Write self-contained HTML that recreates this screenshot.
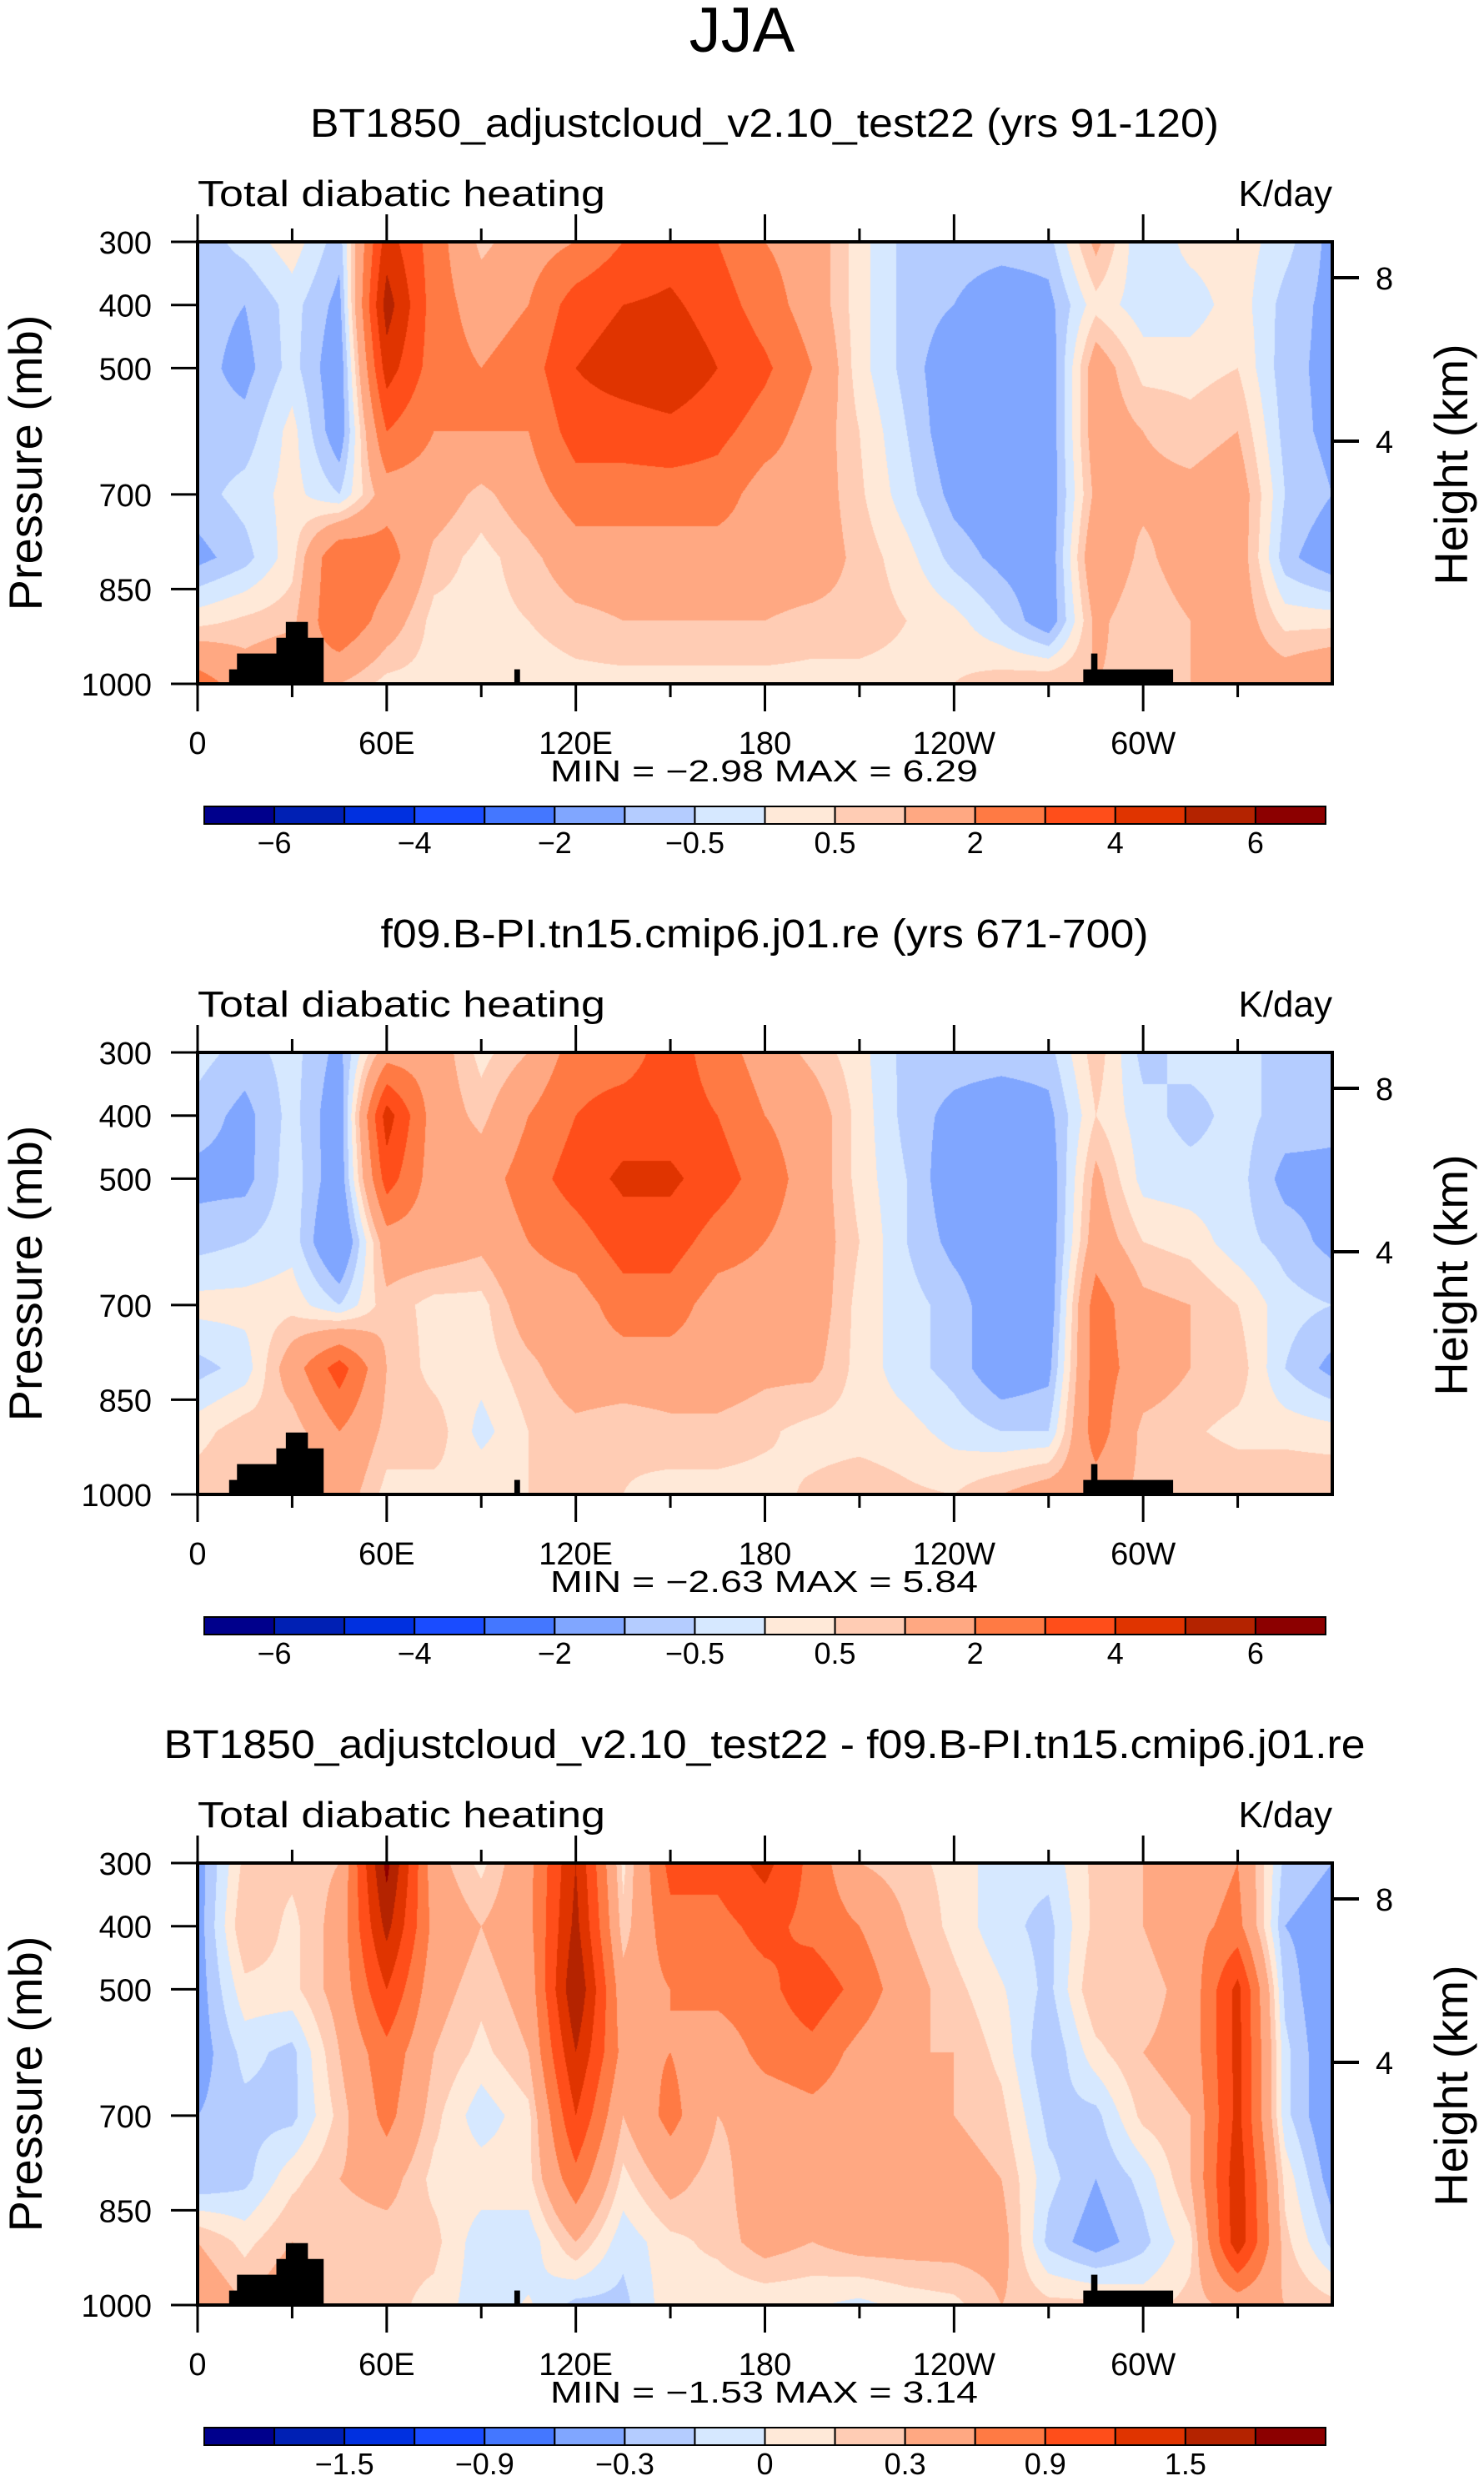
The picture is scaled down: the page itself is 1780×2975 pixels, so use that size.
<!DOCTYPE html>
<html><head><meta charset="utf-8"><style>
html,body{margin:0;padding:0;background:#fff;}
#wrap{position:relative;width:1780px;height:2975px;overflow:hidden;}
canvas{position:absolute;}
svg{position:absolute;left:0;top:0;}
text{font-family:"Liberation Sans",sans-serif;fill:#000;}
</style></head><body>
<div id="wrap">
<canvas id="c0"></canvas>
<canvas id="c1"></canvas>
<canvas id="c2"></canvas>
<svg id="svg" width="1780" height="2975">
<text x="890" y="62" font-size="76" text-anchor="middle">JJA</text>
</svg>
</div>
<script>
// ---- data ----
const lons = [0,15,30,45,60,75,90,105,120,135,150,165,180,195,210,225,240,255,270,285,300,315,330,345,360];
const pLevels = [300,400,500,600,700,800,900,1000];
// each row = one longitude column, values at pLevels
const vals1 = [
[-0.8,-0.8,-0.8,-0.8,-0.7,-1.2,0.3,2.5],
[-0.3,-1,-1.2,-0.8,-0.3,-0.7,0.6,1.5],
[0.3,-0.3,-0.3,0.2,0.2,0.3,0.8,2],
[-0.8,-1.2,-1.5,-1.5,-0.5,3,3,1],
[4.5,5.5,4.5,3,1.5,2.5,1.5,0.3],
[2.5,2.5,2.5,2,1.5,0.8,0.3,0.3],
[0.8,1.5,2,2,0.8,0.3,0.3,0.2],
[1.5,2,2.5,2,1.5,0.8,0.5,0.2],
[2,3.5,4,3.5,2.5,1.5,0.8,0.3],
[3,4,4.5,3.5,2.5,1.5,1,0.3],
[3.5,4.2,4.8,3.7,2.5,1.5,1,0.3],
[3,3.5,4,3.3,2.5,1.5,1,0.3],
[2,2.5,3.2,2.5,1.5,1.5,1,0.3],
[1.5,1.5,2,1.5,1.5,1.5,0.8,0.3],
[0.2,0.2,0.2,0.5,0.6,0.8,0.8,0.3],
[-0.7,-0.7,-0.7,-0.5,-0.3,0.2,0.5,0.3],
[-0.7,-1,-1.5,-1.5,-1.2,-0.7,0.2,0.5],
[-0.7,-1.5,-1.5,-1.5,-1.5,-1.2,-0.5,0.8],
[-0.7,-1.2,-1.5,-1.5,-1.5,-1.5,-1.5,1.0],
[1.2,0.3,1.5,1.5,1.2,1.8,1.2,1],
[-0.5,-0.3,0.3,1,1.2,0.8,0.5,0.8],
[0.2,-0.3,0.3,0.7,1.2,1.5,1,1],
[0.3,0.3,0.5,1,1.5,1.5,1.5,1.5],
[-0.3,-0.7,-0.8,-0.7,-0.5,-0.8,0.3,1.5],
[-1.2,-1.2,-1.2,-1.2,-1,-1.5,0.3,2]
];
const vals2 = [
[-0.3,-0.7,-1.2,-0.7,0.2,-0.7,0.3,0.8],
[-0.7,-1.2,-1.2,-0.5,0.2,-0.3,0.8,1],
[-0.3,-0.3,-0.2,-0.2,0.3,1.5,0.6,1],
[-1.2,-1.5,-1.5,-2.0,-0.5,3.5,2,1.5],
[1.5,4.5,3.5,1.5,0.8,1,0.8,0.3],
[1.5,1.5,1.5,1.5,0.3,0.3,0.8,0.3],
[0.3,0.8,1.5,1.2,0.3,0.2,-0.2,0.5],
[1.0,2,2.5,2,1.5,0.8,0.5,0.5],
[2.5,3,3.5,2.5,1.5,1.5,0.8,0.8],
[2.5,3.5,4.2,3.5,2.5,1.5,0.6,0.5],
[3.5,3.5,4.2,3.5,2.5,1.5,0.8,0.3],
[2.5,3,3.5,2.5,1.5,1.5,0.8,0.3],
[1.5,2,2.5,2,1.5,1.2,0.6,0.3],
[0.8,1.5,1.5,1.5,1.5,1.2,0.3,0.6],
[0.2,0.3,0.3,0.5,0.3,0.3,0.3,0.8],
[-0.7,-0.7,-0.5,-0.5,-0.3,-0.3,0.2,0.6],
[-0.7,-1.2,-1.5,-1.2,-0.7,-0.7,-0.2,0.5],
[-0.7,-1.5,-1.5,-1.5,-1.5,-1.5,-0.5,1],
[-0.7,-1.2,-1.5,-1.5,-1.5,-1.2,-0.5,1.5],
[0.8,0.5,1.2,1.5,2.5,2.5,2.5,1.5],
[-0.7,-0.3,-0.2,0.5,1.2,1.5,0.8,0.8],
[-0.3,-0.7,-0.3,0.3,1,1,0.6,1],
[-0.3,-0.3,-0.3,-0.3,0.5,0.8,0.3,1],
[-0.7,-0.7,-1.2,-0.7,-0.3,-0.5,0.3,1],
[-0.5,-0.8,-1.2,-1.2,-0.5,-1.2,0.2,1]
];
const vals3 = [
[-0.4,-0.4,-0.4,-0.4,-0.3,-0.3,0.3,0.5],
[0.2,0.3,0.1,-0.1,-0.2,-0.2,0.1,0.3],
[0.2,0.1,0.1,-0.2,-0.2,0.1,0.3,0.5],
[0.3,0.4,0.4,0.3,0.2,0.3,0.2,0.2],
[1.9,1.6,1.2,0.8,0.7,0.4,0.2,0.2],
[0.4,0.5,0.4,0.3,0.2,0.1,0.2,0.1],
[0.1,0.3,0.2,0.1,-0.1,0.1,-0.1,-0.1],
[0.5,0.5,0.4,0.3,0.1,0.1,-0.1,0.02],
[1.5,1.6,1.8,1.5,1.2,0.8,0.3,-0.2],
[0.1,0.2,0.4,0.5,0.3,0.1,-0.1,-0.2],
[1.0,0.8,0.6,0.6,0.7,0.4,0.1,0.1],
[1.0,0.8,0.7,0.4,0.3,0.2,0.2,0.02],
[1.3,1.0,0.8,0.7,0.4,0.5,0.4,0.02],
[0.8,0.8,1.1,0.8,0.5,0.5,0.3,0.02],
[0.3,0.6,0.8,0.5,0.4,0.5,0.4,-0.05],
[0.2,0.3,0.4,0.3,0.3,0.4,0.4,0.05],
[0.1,0.1,0.2,0.3,0.3,0.4,0.4,0.1],
[-0.1,-0.1,0.02,0.1,0.2,0.3,0.4,0.3],
[-0.1,-0.2,-0.2,-0.3,-0.2,-0.1,-0.2,0.2],
[0.2,0.2,0.3,0.1,-0.2,-0.3,-0.4,0.2],
[0.3,0.3,0.2,0.3,0.2,-0.1,-0.2,0.1],
[0.4,0.5,0.4,0.4,0.3,0.3,0.1,0.2],
[0.6,0.7,1.3,1.3,1.3,1.4,1.4,0.4],
[-0.2,-0.3,-0.2,-0.1,-0.1,0.1,0.2,0.3],
[-0.3,-0.4,-0.5,-0.5,-0.5,-0.4,-0.2,0.2]
];
const levelsAbs = [-6,-5,-4,-3,-2,-1,-0.5,0,0.5,1,2,3,4,5,6];
const levelsDiff = [-1.8,-1.5,-1.2,-0.9,-0.6,-0.3,-0.15,0,0.15,0.3,0.6,0.9,1.2,1.5,1.8];
const cbLabelsAbs = ['\u22126','\u22124','\u22122','\u22120.5','0.5','2','4','6'];
const cbLabelIdxAbs = [0,2,4,6,8,10,12,14];
const cbLabelsDiff = ['\u22121.5','\u22120.9','\u22120.3','0','0.3','0.9','1.5'];
const cbLabelIdxDiff = [1,3,5,7,9,11,13];
const titles = ['BT1850_adjustcloud_v2.10_test22 (yrs 91-120)','f09.B-PI.tn15.cmip6.j01.re (yrs 671-700)','BT1850_adjustcloud_v2.10_test22 - f09.B-PI.tn15.cmip6.j01.re'];
const titleWidths = [1090,921,1441];
const minmax = [['\u22122.98','6.29'],['\u22122.63','5.84'],['\u22121.53','3.14']];
const lonTicks = [0,60,120,180,240,300];
const lonTickLabels = ['0','60E','120E','180','120W','60W'];
const pTicks = [300,400,500,700,850,1000];
const heightTicks = [[8,333],[4,529]];
const topoA = [[10,1000],[10,977],[12.5,977],[12.5,952],[25,952],[25,927],[28,927],[28,902],[35,902],[35,927],[40,927],[40,1000]];
const topoB = [[100.5,1000],[100.5,977],[102.3,977],[102.3,1000]];
const topoC = [[281,1000],[281,977],[283.5,977],[283.5,952],[285.5,952],[285.5,977],[309.5,977],[309.5,1000]];
const colors = ['#00008c','#0020b4','#0030e0','#1a4cff','#4477ff','#80a6ff','#b4ccff','#d6e8ff','#ffe9d8','#ffccb4','#ffa882','#ff7a44','#ff4e1a','#e03400','#b42300','#8c0000'];

// ---- layout ----
const X0=237, X1=1598, PT=290, PH=530, OFF=972;
const svg=document.getElementById('svg');
const NS='http://www.w3.org/2000/svg';
function xOf(lon){return X0+(lon/360)*(X1-X0);}
function yOf(p,k){return PT+k*OFF+((p-300)/700)*PH;}
function mk(tag,attrs,parent){const e=document.createElementNS(NS,tag);for(const a in attrs)e.setAttribute(a,attrs[a]);(parent||svg).appendChild(e);return e;}
function hexRgb(h){return [parseInt(h.substr(1,2),16),parseInt(h.substr(3,2),16),parseInt(h.substr(5,2),16)];}
const rgb=colors.map(hexRgb);

const allVals=[vals1,vals2,vals3];
for(let k=0;k<3;k++){
  const vals=allVals[k], lev=k<2?levelsAbs:levelsDiff;
  const cv=document.getElementById('c'+k);
  const W=X1-X0, H=PH;
  cv.width=W;cv.height=H;cv.style.left=X0+'px';cv.style.top=(PT+k*OFF)+'px';
  const ctx=cv.getContext('2d');const img=ctx.createImageData(W,H);const d=img.data;
  const nl=lons.length-1, np=pLevels.length-1;
  for(let py=0;py<H;py++){
    const p=300+(py+0.5)/H*700;
    let j=0;while(j<np-1&&p>pLevels[j+1])j++;
    const fy=(p-pLevels[j])/(pLevels[j+1]-pLevels[j]);
    for(let px=0;px<W;px++){
      const lon=(px+0.5)/W*360;
      let i=Math.min(nl-1,Math.floor(lon/15));
      const fx=(lon-lons[i])/(lons[i+1]-lons[i]);
      const v=(vals[i][j]*(1-fx)+vals[i+1][j]*fx)*(1-fy)+(vals[i][j+1]*(1-fx)+vals[i+1][j+1]*fx)*fy+1e-6;
      let c=0;while(c<lev.length&&v>=lev[c])c++;
      const o=(py*W+px)*4;d[o]=rgb[c][0];d[o+1]=rgb[c][1];d[o+2]=rgb[c][2];d[o+3]=255;
    }
  }
  ctx.putImageData(img,0,0);

  const g=mk('g',{});
  
  
  const oy=k*OFF;
  [topoA,topoB,topoC].forEach(function(poly){
    const pl=mk('polygon',{points:poly.map(q=>xOf(q[0])+','+yOf(q[1],k)).join(' '),fill:'#000'},g);
    
    
  });
  const fr=mk('rect',{x:X0,y:PT+oy,width:X1-X0,height:PH,fill:'none',stroke:'#000','stroke-width':4},g);
  
  
  for(let lon=0;lon<=330;lon+=30){
    const L=(lon%60===0)?33:16;
    mk('line',{x1:xOf(lon),x2:xOf(lon),y1:PT+oy,y2:PT+oy-L,stroke:'#000','stroke-width':3},g);
    mk('line',{x1:xOf(lon),x2:xOf(lon),y1:PT+oy+PH,y2:PT+oy+PH+L,stroke:'#000','stroke-width':3},g);
  }
  lonTicks.forEach(function(lon,ii){
    const t=mk('text',{x:xOf(lon),y:PT+oy+614,'font-size':38,'text-anchor':'middle'},g);
    t.textContent=lonTickLabels[ii];
    
    
  });
  pTicks.forEach(function(p){
    mk('line',{x1:205,x2:X0,y1:yOf(p,k),y2:yOf(p,k),stroke:'#000','stroke-width':3},g);
    const t=mk('text',{x:182,y:yOf(p,k)+14,'font-size':38,'text-anchor':'end'},g);
    t.textContent=String(p);
    
    
  });
  heightTicks.forEach(function(h){
    const y=h[1]+oy;
    mk('line',{x1:X1,x2:1630,y1:y,y2:y,stroke:'#000','stroke-width':4},g);
    const t=mk('text',{x:1650,y:y+14,'font-size':38},g);
    t.textContent=String(h[0]);
    
    
  });
  let t=mk('text',{x:0,y:0,'font-size':56,'text-anchor':'middle',transform:'translate(50,'+(555+oy)+') rotate(-90)'},g);
  t.textContent='Pressure  (mb)';
  
  
  t=mk('text',{x:0,y:0,'font-size':56,'text-anchor':'middle',transform:'translate(1760,'+(557+oy)+') rotate(-90)'},g);
  t.textContent='Height  (km)';
  
  
  t=mk('text',{x:917,y:164+oy,'font-size':48,'text-anchor':'middle',textLength:titleWidths[k],lengthAdjust:'spacingAndGlyphs'},g);
  t.textContent=titles[k];
  
  
  t=mk('text',{x:237,y:247+oy,'font-size':44,textLength:489,lengthAdjust:'spacingAndGlyphs'},g);
  t.textContent='Total diabatic heating';
  
  
  t=mk('text',{x:1598,y:247+oy,'font-size':44,'text-anchor':'end'},g);
  t.textContent='K/day';
  
  
  t=mk('text',{x:660,y:PT+oy+647,'font-size':36,textLength:513,lengthAdjust:'spacingAndGlyphs','xml:space':'preserve'},g);
  t.textContent='MIN =   '+minmax[k][0]+'   MAX =    '+minmax[k][1];
  
  
  const cb=mk('g',{},g);
  
  
  const cbx0=245,cbx1=1590,cbw=(cbx1-cbx0)/colors.length,cby=PT+oy+677;
  colors.forEach(function(c,ii){
    const r=mk('rect',{x:cbx0+ii*cbw,y:cby,width:cbw,height:21,fill:c,stroke:'#000','stroke-width':2},cb);
    
    
  });
  const labs=k<2?cbLabelsAbs:cbLabelsDiff, idx=k<2?cbLabelIdxAbs:cbLabelIdxDiff;
  labs.forEach(function(s,ii){
    const tt=mk('text',{x:cbx0+(idx[ii]+1)*cbw,y:cby+56,'font-size':36,'text-anchor':'middle'},cb);
    tt.textContent=s;
    
    
  });
}
</script>
</body></html>
